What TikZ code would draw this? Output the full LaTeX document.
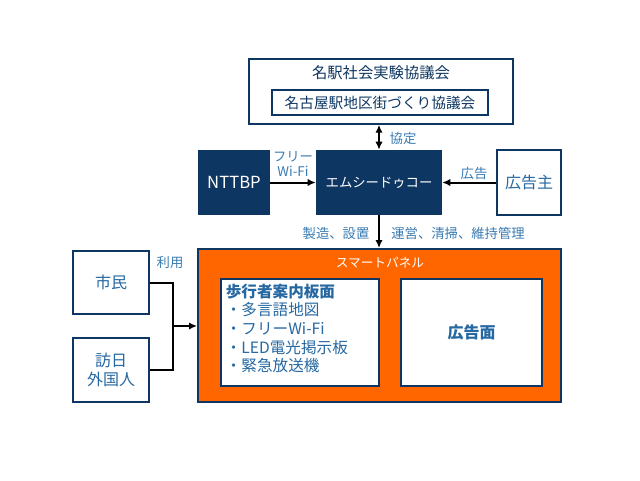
\documentclass[tikz,border=0pt]{standalone}
\usepackage{fontspec}
\setmainfont{Noto Sans CJK JP}
\usepackage{tikz}
\usetikzlibrary{
  arrows.meta,
  positioning
}
\definecolor{navy}{RGB}{14,54,98}
\definecolor{panelorange}{RGB}{255,102,0}
\definecolor{textblue}{RGB}{38,104,162}
\definecolor{labelblue}{RGB}{58,124,178}

\begin{document}
\begin{tikzpicture}[x=0.75pt,y=-0.75pt,>={Latex[length=6pt,width=5.5pt]},
  box/.style={draw=navy,line width=1.1pt,fill=white,text=textblue,inner sep=0pt,
    font=\fontsize{12}{14}\selectfont},
  darkbox/.style={fill=navy,text=white,inner sep=0pt,minimum height=48.75pt},
  lbl/.style={text=labelblue,inner sep=0pt,font=\fontsize{10}{11.5}\selectfont},
  link/.style={line width=1.5pt,->}]
  \useasboundingbox[fill=white] (0,0) rectangle (640,480);
  \node[box,minimum width=198pt,minimum height=48.75pt] (M) at (381,91.5) {};
  \node[text=navy,inner sep=0pt,font=\fontsize{11.5}{13}\selectfont] (T) at (381,73) {名駅社会実験協議会};
  \node[box,text=navy,minimum width=162pt,minimum height=18.75pt,font=\fontsize{11}{13}\selectfont] (Z) at (380,102.5) {名古屋駅地区街づくり協議会};
  \node[darkbox,minimum width=54pt,font=\fontsize{12.5}{14}\selectfont] (N) at (234,182.5) {NTTBP};
  \node[darkbox,minimum width=94.5pt,font=\fontsize{10}{12}\selectfont] (J) at (379,182.5) {エムシードゥコー};
  \node[box,minimum width=48pt,minimum height=48.75pt] (A) at (529,182.5) {広告主};
  \node[draw=navy,line width=1.5pt,fill=panelorange,minimum width=272.25pt,minimum height=114.75pt] (P) at (379.5,325.5) {};
  \node[text=white,inner sep=0pt,font=\fontsize{9.5}{11}\selectfont] (PT) at (380,263) {スマートパネル};
  \node[box,minimum width=118.5pt,minimum height=80.25pt] (G) at (300,332.5) {};
  \node[box,minimum width=105.75pt,minimum height=80.25pt,font=\fontsize{12}{14}\bfseries] (K) at (471.5,332.5) {広告面};
  \node[below right=4pt and 4pt of G.north west,align=left,text=textblue,inner sep=0pt,
    font=\fontsize{11.7}{14}\selectfont] (GT)
    {{\bfseries 歩行者案内板面}\\・多言語地図\\・フリーWi-Fi\\・LED電光掲示板\\・緊急放送機};
  \node[box,minimum width=57pt,minimum height=47.25pt] (S) at (111,282.5) {市民};
  \node[box,minimum width=57pt,minimum height=48pt,align=center] (F) at (111,370) {訪日\\外国人};
  \coordinate (X) at (173,326);
  \draw[link,<->] (J.north) -- (J.north |- M.south);
  \draw[link] (N) -- (J);
  \draw[link] (A) -- (J);
  \draw[link] (J.south) -- (J.south |- P.north);
  \draw[line width=1.5pt] (S.east) -| (X) |- (F.east);
  \draw[link] (X) -- (X -| P.west);
  \node[lbl] at (403,138) {協定};
  \node[lbl,align=center] at (293,164) {フリー\\Wi-Fi};
  \node[lbl] at (474,173) {広告};
  \node[lbl] at (336,233) {製造、設置};
  \node[lbl] at (458,233) {運営、清掃、維持管理};
  \node[lbl] at (170,262) {利用};
\end{tikzpicture}
\end{document}
